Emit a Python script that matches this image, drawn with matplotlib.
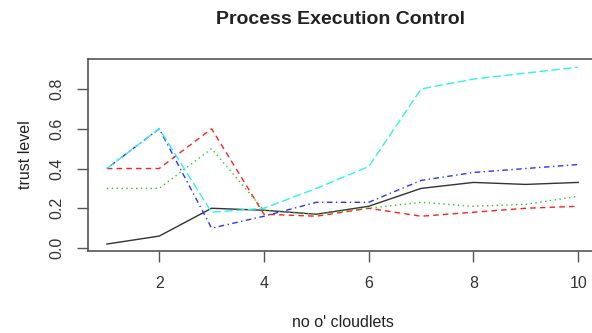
import matplotlib
matplotlib.use("Agg")
import matplotlib.pyplot as plt

plt.rcParams['font.family'] = ['Liberation Sans', 'DejaVu Sans']

cloudlets = [1, 2, 3, 4, 5, 6, 7, 8, 9, 10]
trust_black = [0.02, 0.06, 0.20, 0.19, 0.17, 0.21, 0.30, 0.33, 0.32, 0.33]
trust_red = [0.40, 0.40, 0.60, 0.17, 0.16, 0.20, 0.16, 0.18, 0.20, 0.21]
trust_green = [0.30, 0.30, 0.50, 0.19, 0.17, 0.20, 0.23, 0.21, 0.22, 0.26]
trust_blue = [0.40, 0.60, 0.10, 0.16, 0.23, 0.23, 0.34, 0.38, 0.40, 0.42]
trust_cyan = [0.40, 0.60, 0.18, 0.20, 0.30, 0.41, 0.80, 0.85, 0.88, 0.91]

xticks = [2, 4, 6, 8, 10]
yticks = [0.0, 0.2, 0.4, 0.6, 0.8]
ytick_labels = ["0.0", "0.2", "0.4", "0.6", "0.8"]

fig = plt.figure(figsize=(5.92, 3.33), dpi=100)
ax = fig.add_axes([88 / 592, 1 - 251 / 333, 509 / 592, 192 / 333])

lw = 1.0
ax.plot(cloudlets, trust_black, color="#333333", linestyle="-", lw=lw)
ax.plot(cloudlets, trust_red, color="#ff2020", linestyle=(0, (4, 3)), lw=lw)
ax.plot(cloudlets, trust_green, color="#20cc20", linestyle=(0, (1, 2.5)), lw=lw)
ax.plot(cloudlets, trust_blue, color="#3030ff", linestyle=(0, (1, 2.5, 4, 2.5)), lw=lw)
ax.plot(cloudlets, trust_cyan, color="#30f0f0", linestyle=(0, (6, 2.5)), lw=lw)

ax.set_xlim(0.64, 10.36)
ax.set_ylim(-0.015, 0.951)
ax.set_xticks(xticks)
ax.set_yticks(yticks)
ax.set_yticklabels(ytick_labels, rotation=90, va="center")

for s in ax.spines.values():
    s.set_color("#555555")
    s.set_linewidth(1.2)
ax.tick_params(axis="both", direction="out", length=8, width=1.0,
               color="#555555", labelsize=11.5, labelcolor="#333333")
ax.tick_params(axis="x", pad=10)
ax.tick_params(axis="y", pad=9)

ax.set_xlabel("no o' cloudlets", fontsize=11.5, color="#222222", labelpad=17)
ax.set_ylabel("trust level", fontsize=11.5, color="#222222", labelpad=12)
fig.text(0.575, 0.94, "Process Execution Control", ha="center", va="center",
         fontsize=14, fontweight="bold", color="#222222")

fig.savefig("out.png", dpi=100)
